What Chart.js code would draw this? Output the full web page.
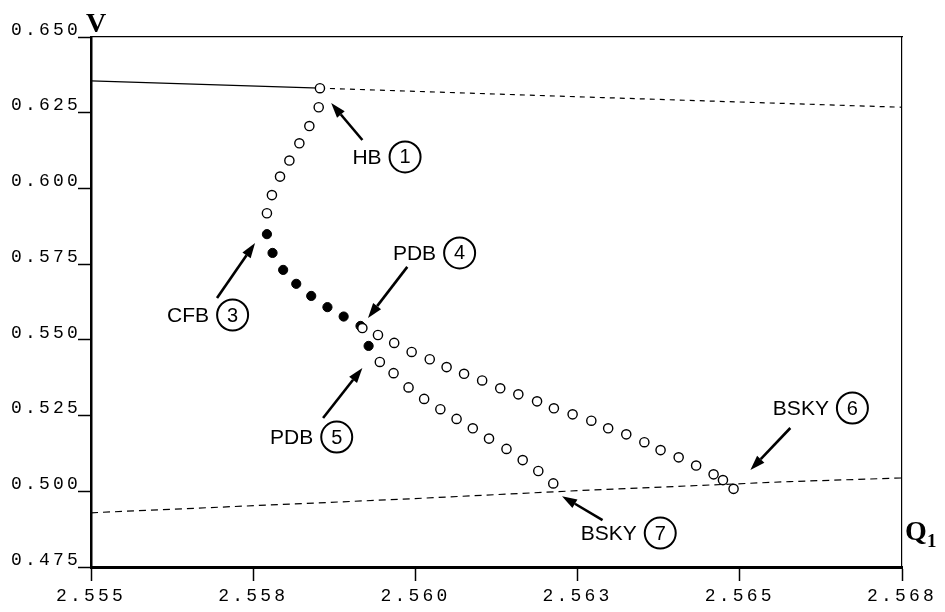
<!DOCTYPE html>
<html><head><meta charset="utf-8">
<script src="https://cdn.jsdelivr.net/npm/chart.js@4.4.0/dist/chart.umd.min.js"></script>
<style>html,body{margin:0;padding:0;background:#fff;} #c{display:block;}</style>
</head><body>
<canvas id="c" width="945" height="612"></canvas>
<script>
// ---- tick labels ----
const xTickValues = [2.555, 2.5576, 2.5602, 2.5628, 2.5654, 2.568];
const xTickLabels = ['2.555', '2.558', '2.560', '2.563', '2.565', '2.568'];
const yTickValues = [0.475, 0.500, 0.525, 0.550, 0.575, 0.600, 0.625, 0.650];
const yTickLabels = ['0.475', '0.500', '0.525', '0.550', '0.575', '0.600', '0.625', '0.650'];

// ---- curves (Q1, V) ----
const solidQ = [2.5550, 2.55867];
const solidV = [0.6355, 0.6331];
const upperDashQ = [2.55867, 2.5632, 2.5680];
const upperDashV = [0.6331, 0.6300, 0.6268];
const lowerDashQ = [2.5550, 2.5600, 2.5630, 2.5662, 2.5680];
const lowerDashV = [0.4929, 0.4974, 0.5004, 0.5032, 0.5044];

// ---- periodic-orbit branches ----
const risingQ = [2.55782, 2.55790, 2.55803, 2.55818, 2.55834, 2.55850, 2.55865, 2.55867];
const risingV = [0.5918, 0.5978, 0.6039, 0.6092, 0.6149, 0.6206, 0.6268, 0.6331];
const filledQ = [2.55782, 2.55791, 2.55808, 2.55829, 2.55853, 2.55879, 2.55905, 2.55932, 2.55945];
const filledV = [0.5849, 0.5787, 0.5731, 0.5685, 0.5645, 0.5608, 0.5577, 0.5546, 0.5480];
const upperQ = [2.55935, 2.55960, 2.55986, 2.56014, 2.56043, 2.56070, 2.56098, 2.56127, 2.56156, 2.56185, 2.56215, 2.56242, 2.56272, 2.56302, 2.56329, 2.56358, 2.56387, 2.56413, 2.56442, 2.56470, 2.56498, 2.56513, 2.56530];
const upperV = [0.5539, 0.5516, 0.5490, 0.5460, 0.5436, 0.5410, 0.5388, 0.5366, 0.5340, 0.5320, 0.5297, 0.5274, 0.5254, 0.5233, 0.5208, 0.5188, 0.5162, 0.5136, 0.5112, 0.5085, 0.5056, 0.5037, 0.5008];
const lowerQ = [2.55963, 2.55985, 2.56009, 2.56034, 2.56060, 2.56086, 2.56112, 2.56138, 2.56166, 2.56192, 2.56217, 2.56241];
const lowerV = [0.5427, 0.5390, 0.5343, 0.5305, 0.5271, 0.5239, 0.5208, 0.5174, 0.5140, 0.5103, 0.5067, 0.5026];

// ---- annotations (label anchor and arrow in data coords) ----
const annLabels = ['HB', 'CFB', 'PDB', 'PDB', 'BSKY', 'BSKY'];
const annNums = ['1', '3', '4', '5', '6', '7'];
const annQ = [2.55919, 2.55622, 2.55984, 2.55787, 2.56593, 2.56285];
const annV = [0.6104, 0.5582, 0.5787, 0.5179, 0.5275, 0.4862];
const arrFromQ = [2.55935, 2.55702, 2.56007, 2.55872, 2.56621, 2.56320];
const arrFromV = [0.6160, 0.5638, 0.5741, 0.5242, 0.5209, 0.4905];
const arrToQ = [2.55885, 2.55763, 2.55944, 2.55935, 2.56557, 2.56255];
const arrToV = [0.6282, 0.5820, 0.5572, 0.5407, 0.5070, 0.4984];

const zip = (q, v) => q.map((x, i) => ({x: x, y: v[i]}));

const letterSpacingPlugin = {
  id: 'ls',
  beforeDraw(c) { c.ctx.letterSpacing = '3.2px'; },
  beforeDatasetsDraw(c) { c.ctx.letterSpacing = '0px'; }
};

const annPlugin = {
  id: 'ann',
  afterDraw(c) {
    const ctx = c.ctx, xs = c.scales.x, ys = c.scales.y, a = c.chartArea;
    ctx.save();
    ctx.letterSpacing = '0px';
    ctx.fillStyle = '#000'; ctx.strokeStyle = '#000';
    // axis titles
    ctx.font = 'bold 28px "Liberation Serif"';
    ctx.textAlign = 'center'; ctx.textBaseline = 'alphabetic';
    ctx.fillText('V', a.left + 5, a.top - 5);
    ctx.textAlign = 'left';
    ctx.fillText('Q', a.right + 3, a.bottom - 27);
    ctx.font = 'bold 19px "Liberation Serif"';
    ctx.fillText('1', a.right + 25, a.bottom - 20);
    // annotations
    for (let i = 0; i < annLabels.length; i++) {
      const tx = xs.getPixelForValue(annQ[i]), ty = ys.getPixelForValue(annV[i]);
      ctx.font = '21px "Liberation Sans"';
      ctx.textAlign = 'left'; ctx.textBaseline = 'middle';
      ctx.fillText(annLabels[i], tx, ty + 1);
      const w = ctx.measureText(annLabels[i]).width;
      const r = 15.5;
      const cx = tx + w + 8 + r;
      ctx.lineWidth = 2;
      ctx.beginPath(); ctx.arc(cx, ty, r, 0, Math.PI * 2); ctx.stroke();
      ctx.font = '20px "Liberation Sans"';
      ctx.textAlign = 'center';
      ctx.fillText(annNums[i], cx, ty + 1);
      // arrow
      const fx = xs.getPixelForValue(arrFromQ[i]), fy = ys.getPixelForValue(arrFromV[i]);
      const ex = xs.getPixelForValue(arrToQ[i]), ey = ys.getPixelForValue(arrToV[i]);
      const ang = Math.atan2(ey - fy, ex - fx);
      const hl = 15, hw = 5;
      const bx = ex - hl * Math.cos(ang), by = ey - hl * Math.sin(ang);
      ctx.lineWidth = 2.6;
      ctx.beginPath(); ctx.moveTo(fx, fy); ctx.lineTo(bx, by); ctx.stroke();
      ctx.beginPath();
      ctx.moveTo(ex, ey);
      ctx.lineTo(bx + hw * Math.sin(ang), by - hw * Math.cos(ang));
      ctx.lineTo(bx - hw * Math.sin(ang), by + hw * Math.cos(ang));
      ctx.closePath(); ctx.fill();
    }
    ctx.restore();
  }
};

const openPt = {showLine: false, pointRadius: 4.6, pointBackgroundColor: '#fff', pointBorderColor: '#000', pointBorderWidth: 1.4, borderColor: '#000'};

new Chart(document.getElementById('c'), {
  type: 'scatter',
  data: {
    datasets: [
      Object.assign({label: 'upper', data: zip(upperQ, upperV), order: 1}, openPt),
      Object.assign({label: 'lower', data: zip(lowerQ, lowerV), order: 1}, openPt),
      Object.assign({label: 'rising', data: zip(risingQ, risingV), order: 1}, openPt),
      {label: 'filled', data: zip(filledQ, filledV), showLine: false, pointRadius: 4.6, pointBackgroundColor: '#000', pointBorderColor: '#000', pointBorderWidth: 1, order: 2},
      {label: 'solid', data: zip(solidQ, solidV), showLine: true, borderColor: '#000', borderWidth: 1.2, pointRadius: 0, order: 3},
      {label: 'udash', data: zip(upperDashQ, upperDashV), showLine: true, borderColor: '#000', borderWidth: 1.2, borderDash: [5, 5], pointRadius: 0, order: 3},
      {label: 'ldash', data: zip(lowerDashQ, lowerDashV), showLine: true, borderColor: '#000', borderWidth: 1.2, borderDash: [7, 5], pointRadius: 0, order: 3}
    ]
  },
  options: {
    responsive: false,
    animation: false,
    devicePixelRatio: 1,
    layout: {padding: {left: 0, top: 37, right: 43, bottom: 0}},
    plugins: {legend: {display: false}, tooltip: {enabled: false}},
    events: [],
    scales: {
      x: {
        type: 'linear', position: 'bottom', min: 2.555, max: 2.568,
        afterBuildTicks: s => { s.ticks = xTickValues.map(v => ({value: v})); },
        afterFit: s => { s.height = 45; },
        ticks: {autoSkip: false, maxRotation: 0, callback: (v, i) => xTickLabels[i], font: {family: 'Liberation Mono', size: 18}, color: '#000', padding: 4},
        grid: {drawOnChartArea: false, drawTicks: true, tickLength: 14, tickWidth: 1.5, tickColor: '#000'},
        border: {display: true, color: '#000', width: 3}
      },
      y: {
        type: 'linear', position: 'left', min: 0.475, max: 0.650,
        afterBuildTicks: s => { s.ticks = yTickValues.map(v => ({value: v})); },
        afterFit: s => { s.width = 91; },
        ticks: {autoSkip: false, callback: (v, i) => yTickLabels[i], font: {family: 'Liberation Mono', size: 18}, color: '#000', padding: -3, labelOffset: -7},
        grid: {drawOnChartArea: false, drawTicks: true, tickLength: 13, tickWidth: 1.5, tickColor: '#000'},
        border: {display: true, color: '#000', width: 2.5}
      },
      xTop: {
        type: 'linear', position: 'top', min: 2.555, max: 2.568,
        afterFit: s => { s.height = 0; },
        ticks: {display: false}, grid: {drawOnChartArea: false, drawTicks: false},
        border: {display: true, color: '#000', width: 1.2}
      },
      yRight: {
        type: 'linear', position: 'right', min: 0.475, max: 0.650,
        afterFit: s => { s.width = 0; },
        ticks: {display: false}, grid: {drawOnChartArea: false, drawTicks: false},
        border: {display: true, color: '#000', width: 1.2}
      }
    }
  },
  plugins: [letterSpacingPlugin, annPlugin]
});
</script>
</body></html>
